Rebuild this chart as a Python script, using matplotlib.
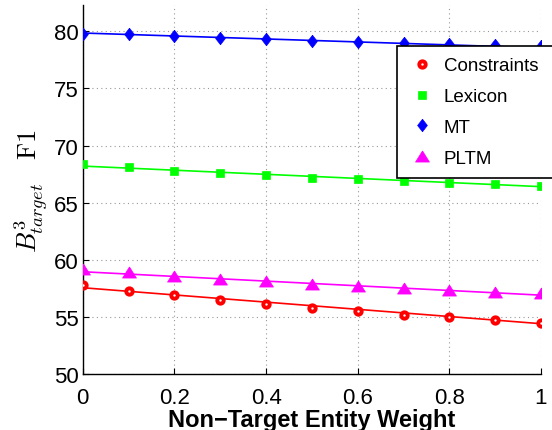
import matplotlib
matplotlib.use("Agg")
import matplotlib.pyplot as plt

# non-target entity weight
weights = [0.0, 0.1, 0.2, 0.3, 0.4, 0.5, 0.6, 0.7, 0.8, 0.9, 1.0]

# B^3 target F1 per method (markers)
constraints = [57.8, 57.3, 56.9, 56.45, 56.1, 55.8, 55.5, 55.2, 54.95, 54.7, 54.5]
lexicon = [68.4, 68.1, 67.8, 67.6, 67.4, 67.2, 67.05, 66.9, 66.75, 66.6, 66.45]
mt = [79.8, 79.75, 79.6, 79.45, 79.3, 79.15, 79.05, 78.95, 78.85, 78.8, 78.75]
pltm = [59.2, 58.9, 58.6, 58.35, 58.1, 57.9, 57.7, 57.5, 57.35, 57.2, 57.1]

# fitted trend lines (value at weight 0 and weight 1)
trend_x = [0.0, 1.0]
constraints_fit = [57.55, 54.4]
lexicon_fit = [68.2, 66.4]
mt_fit = [79.85, 78.55]
pltm_fit = [58.95, 56.9]

labels = ["Constraints", "Lexicon", "MT", "PLTM"]

plt.rcParams["font.family"] = ["Liberation Sans", "DejaVu Sans"]
plt.rcParams["mathtext.fontset"] = "cm"

fig = plt.figure(figsize=(5.52, 4.31), dpi=100)
ax = fig.add_axes([0.15, 0.13, 0.83, 0.856])

diamond = [(0, 1), (0.78, 0), (0, -1), (-0.78, 0), (0, 1)]
triangle = [(0, 0.8), (1, -0.8), (-1, -0.8), (0, 0.8)]

series = [
    (constraints, constraints_fit, "#ff0000", dict(marker="o", ms=4.6, mfc="white", mew=2.8)),
    (lexicon, lexicon_fit, "#00ff00", dict(marker="s", ms=6, mew=0.5)),
    (mt, mt_fit, "#0000ff", dict(marker=diamond, ms=9, mew=0.5)),
    (pltm, pltm_fit, "#ff00ff", dict(marker=triangle, ms=10, mew=0.5)),
]
handles = []
for (vals, fit, color, mk), lab in zip(series, labels):
    ax.plot(trend_x, fit, color=color, lw=1.2, zorder=2)
    h, = ax.plot(weights, vals, ls="none", color=color, mec=color,
                 label=lab, zorder=3, **mk)
    handles.append(h)

ax.set_xlim(0, 1)
ax.set_ylim(50, 82.3)
ax.set_xticks([0, 0.2, 0.4, 0.6, 0.8, 1.0])
ax.set_xticklabels(["0", "0.2", "0.4", "0.6", "0.8", "1"])
ax.set_yticks([50, 55, 60, 65, 70, 75, 80])
ax.tick_params(direction="in", labelsize=16, length=4, width=0.8)
ax.tick_params(axis="x", pad=9.5)
ax.tick_params(axis="y", pad=3)
ax.grid(True, color="#999999", ls=(0, (1, 3)), lw=0.8)
ax.spines["top"].set_visible(False)
ax.spines["right"].set_visible(False)
for s in ("left", "bottom"):
    ax.spines[s].set_linewidth(1.0)

ax.set_xlabel("Non\u2212Target Entity Weight", fontsize=17, fontweight="bold",
              labelpad=0)
ax.set_ylabel(r"$B^3_{target}\ \ \ \mathrm{F1}$", fontsize=19, labelpad=3)

# legend box runs past the right edge of the figure, as in the original
leg_top = 1 - 47 / 431
leg = ax.legend(handles=handles, loc="upper left",
                bbox_to_anchor=(397 / 552, 0.4, 170 / 552, leg_top - 0.4),
                bbox_transform=fig.transFigure, borderaxespad=0,
                mode="expand", fontsize=13.5, frameon=True, fancybox=False,
                edgecolor="black", framealpha=1,
                borderpad=0.6, labelspacing=0.73, handletextpad=0.4,
                handlelength=1.5)
leg.get_frame().set_linewidth(1.2)
leg.set_zorder(5)

fig.savefig("out.png", dpi=100)
